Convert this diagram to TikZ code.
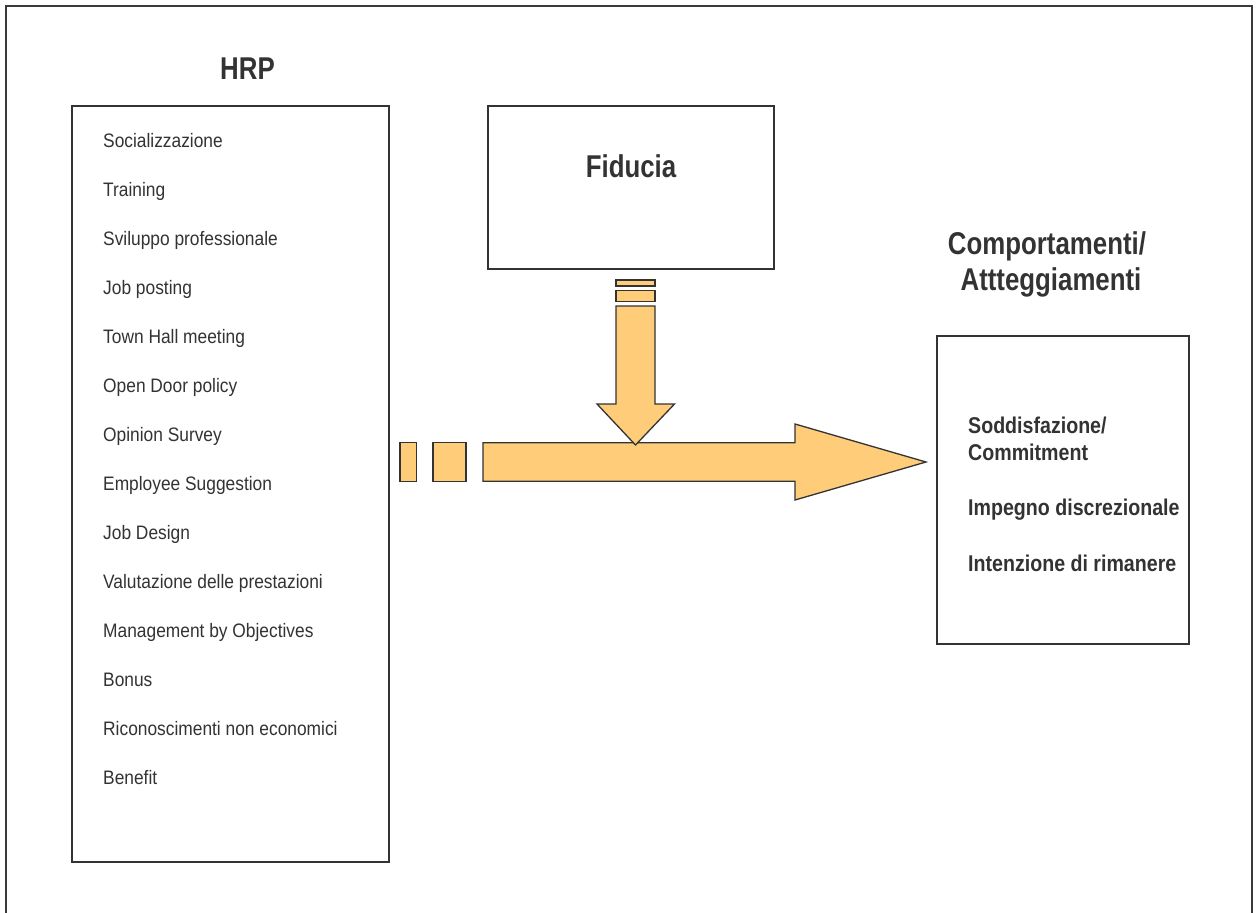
\documentclass[tikz,border=0pt]{standalone}
\usepackage{fontspec}
\setmainfont{Liberation Sans}
\newfontfamily\ttlfont{Liberation Sans}[FakeStretch=0.82]
\newfontfamily\itemfont{Liberation Sans}[FakeStretch=0.89]
\newfontfamily\ritemfont{Liberation Sans}[FakeStretch=0.86]
\definecolor{ink}{HTML}{333333}
\definecolor{frame}{HTML}{3A3A3A}
\definecolor{arrowfill}{HTML}{FFCC7A}
\tikzset{
  box/.style={draw=ink, line width=1.4pt, fill=white, rectangle, inner sep=0pt, outer sep=0pt},
  ttl/.style={text=ink, font=\ttlfont\bfseries\fontsize{31.5}{33}\selectfont, inner sep=0pt, align=center},
  item/.style={text=ink, font=\itemfont\fontsize{19.5}{22}\selectfont, inner sep=0pt, anchor=base west},
  ritem/.style={text=ink, font=\ritemfont\bfseries\fontsize{22.8}{27}\selectfont, inner sep=0pt, anchor=base west},
  blockarrow/.style={draw=ink, line width=1.3pt, fill=arrowfill, line join=miter}
}
\begin{document}
\begin{tikzpicture}[x=1pt, y=-1pt]
\useasboundingbox (0,0) rectangle (1256,913);
% outer frame (bottom edge outside the picture)
\draw[frame, line width=1.6pt] (6,920) -- (6,6) -- (1252,6) -- (1252,920);

% boxes
\node[box, minimum width=317pt, minimum height=756pt] (hrpbox) at (230.5,484) {};
\node[box, minimum width=286pt, minimum height=163pt] (fidbox) at (631,187.5) {};
\node[box, minimum width=252pt, minimum height=308pt] (outbox) at (1063,490) {};

% titles
\node[ttl, anchor=base] (hrptitle) at (247.5,79) {HRP};
\node[ttl, anchor=base] (fidtitle) at (631,177) {Fiducia};
\node[ttl, anchor=base] (outtitle1) at (1047,254) {Comportamenti/};
\node[ttl, anchor=base] (outtitle2) at (1051,290) {Attteggiamenti};

% HRP items
\node[item] (i1) at (103,147.3) {Socializzazione};
\node[item] (i2) at (103,196.3) {Training};
\node[item] (i3) at (103,245.3) {Sviluppo professionale};
\node[item] (i4) at (103,294.3) {Job posting};
\node[item] (i5) at (103,343.3) {Town Hall meeting};
\node[item] (i6) at (103,392.3) {Open Door policy};
\node[item] (i7) at (103,441.3) {Opinion Survey};
\node[item] (i8) at (103,490.3) {Employee Suggestion};
\node[item] (i9) at (103,539.3) {Job Design};
\node[item] (i10) at (103,588.3) {Valutazione delle prestazioni};
\node[item] (i11) at (103,637.3) {Management by Objectives};
\node[item] (i12) at (103,686.3) {Bonus};
\node[item] (i13) at (103,735.3) {Riconoscimenti non economici};
\node[item] (i14) at (103,784.3) {Benefit};

% outcome items
\node[ritem] (o1a) at (968,433) {Soddisfazione/};
\node[ritem] (o1b) at (968,460) {Commitment};
\node[ritem] (o2) at (968,515) {Impegno discrezionale};
\node[ritem] (o3) at (968,571) {Intenzione di rimanere};

% horizontal block arrow with leading dashes
\draw[blockarrow] (400,442.7) rectangle (416.5,481.3);
\draw[blockarrow] (433,442.7) rectangle (466,481.3);
\draw[blockarrow] (483,442.7) -- (795,442.7) -- (795,424) -- (926,462)
  -- (795,500) -- (795,481.3) -- (483,481.3) -- cycle;

% vertical block arrow with leading dashes
\draw[blockarrow] (616,280) rectangle (655,286);
\draw[blockarrow] (616,290.7) rectangle (655,301.7);
\draw[blockarrow] (616,306) -- (655,306) -- (655,404) -- (674.5,404) -- (635.5,445)
  -- (597,404) -- (616,404) -- cycle;
\end{tikzpicture}
\end{document}
